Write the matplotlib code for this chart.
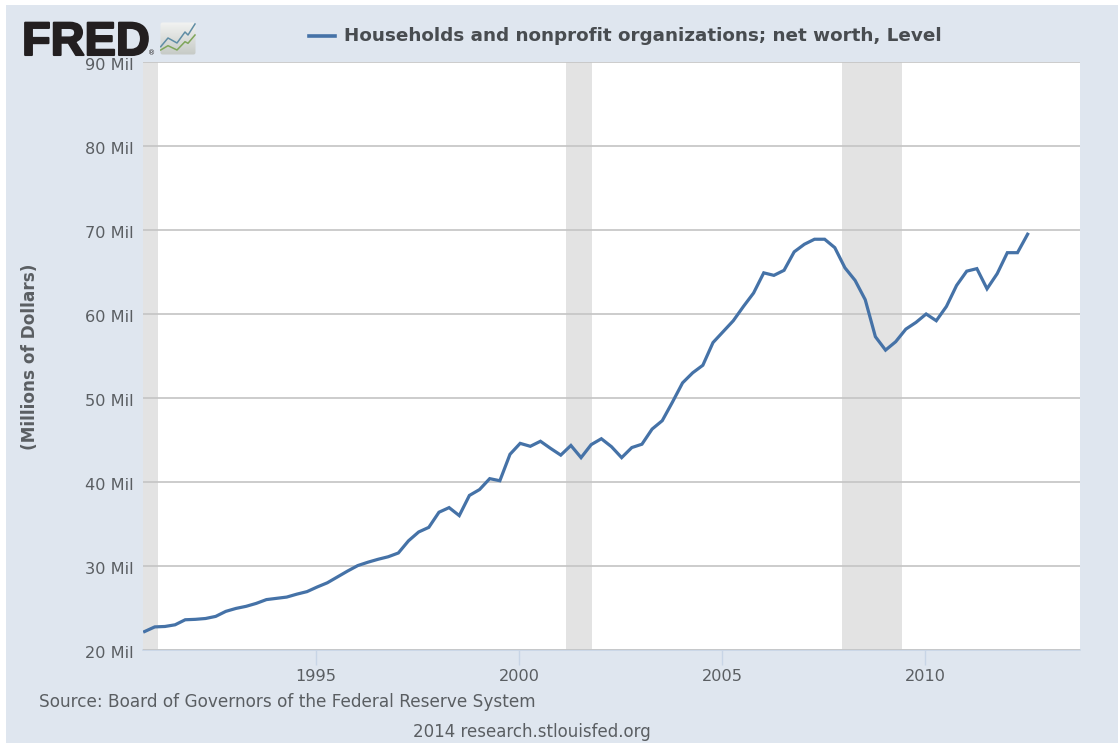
import matplotlib
matplotlib.use("Agg")
import matplotlib.pyplot as plt
import matplotlib.patheffects as pe
import matplotlib.transforms as mtrans
import numpy as np
from matplotlib.patches import Rectangle, FancyBboxPatch

W, H = 1118, 743

start_year = 1990.78
quarter_step = 0.25
net_worth_mil = [
    22.2, 22.75, 22.8, 23.0, 23.6, 23.65, 23.75, 24.0, 24.6, 24.95, 25.2, 25.55,
    26.0, 26.15, 26.3, 26.65, 26.95, 27.5, 28.0, 28.7, 29.4, 30.05, 30.45, 30.8,
    31.1, 31.55, 33.0, 34.05, 34.6, 36.4, 36.95, 36.0, 38.4, 39.1, 40.4, 40.15,
    43.3, 44.6, 44.25, 44.85, 44.0, 43.2, 44.35, 42.9, 44.45, 45.15, 44.2, 42.9,
    44.1, 44.5, 46.3, 47.3, 49.5, 51.8, 53.0, 53.9, 56.6, 57.9, 59.2, 60.9,
    62.5, 64.9, 64.6, 65.2, 67.4, 68.3, 68.9, 68.9, 67.9, 65.5, 64.0, 61.7,
    57.3, 55.7, 56.7, 58.2, 59.0, 60.0, 59.2, 60.9, 63.4, 65.1, 65.4, 63.0,
    64.8, 67.3, 67.3, 69.5,
]
years = [start_year + i * quarter_step for i in range(len(net_worth_mil))]
recessions = [(1990.74, 1991.12), (2001.15, 2001.80), (2007.95, 2009.43)]
y_ticks = [20, 30, 40, 50, 60, 70, 80, 90]
x_ticks = [1995, 2000, 2005, 2010]
title = "Households and nonprofit organizations; net worth, Level"
y_label = "(Millions of Dollars)"
source = "Source: Board of Governors of the Federal Reserve System"
credit = "2014 research.stlouisfed.org"

BG = "#DFE6EF"
TXT = "#5A5E62"
LINE = "#4572A7"

plt.rcParams["font.family"] = ["DejaVu Sans"]
fig = plt.figure(figsize=(W / 100, H / 100), dpi=100, facecolor="white")
fig.patches.append(Rectangle((6 / W, 0), (W - 6) / W, (H - 5) / H, transform=fig.transFigure,
                             facecolor=BG, edgecolor="none", zorder=-10))

ax = fig.add_axes([143 / W, 1 - 650 / H, (1080 - 143) / W, (650 - 62) / H])
ax.set_facecolor("white")
ax.set_xlim(1990.74, 2013.82)
ax.set_ylim(20, 90)
for a, b in recessions:
    ax.axvspan(a, b, color="#E3E3E3", lw=0, zorder=1)
ax.set_yticks(y_ticks)
ax.set_yticklabels([f"{v} Mil" for v in y_ticks])
ax.set_xticks(x_ticks)
ax.set_axisbelow(False)
ax.grid(axis="y", color="#C4C4C4", lw=1.2)
ax.plot(years, net_worth_mil, color=LINE, lw=2.3, zorder=3, solid_joinstyle="miter")
for s in ["left", "right", "top"]:
    ax.spines[s].set_visible(False)
ax.spines["bottom"].set_color("#C8D5E6")
ax.spines["bottom"].set_linewidth(1.2)
ax.tick_params(axis="y", length=0, pad=7, labelsize=11.6, labelcolor=TXT)
ax.tick_params(axis="x", length=11, width=1, color="#C8D5E6", pad=3, labelsize=11.6, labelcolor=TXT)
down = mtrans.ScaledTranslation(0, -3.5 / 100, fig.dpi_scale_trans)
for lab in ax.get_yticklabels():
    lab.set_verticalalignment("center")
    lab.set_transform(lab.get_transform() + down)

fig.text(30 / W, 1 - 357 / H, y_label, rotation=90, ha="center", va="center",
         fontsize=12.2, fontweight="bold", color=TXT)
fig.text(39 / W, 1 - 702 / H, source, ha="left", va="center", fontsize=12.2, color=TXT)
fig.text(532 / W, 1 - 732 / H, credit, ha="center", va="center", fontsize=12, color=TXT)
fig.text(344 / W, 1 - 36 / H, title, ha="left", va="center", fontsize=13.2,
         fontweight="bold", color="#484C50")
fig.add_artist(plt.Line2D([309 / W, 335 / W], [1 - 36 / H, 1 - 36 / H], color=LINE, lw=2.6))

# Logo
logo = fig.text(22 / W, 1 - 55 / H, "FRED", ha="left", va="baseline", fontsize=33.8,
                fontweight="bold", family="Liberation Sans", color="#231F20")
logo.set_path_effects([pe.withStroke(linewidth=1.5, foreground="#231F20")])
fig.text(152 / W, 1 - 53 / H, "®", ha="center", va="center", fontsize=5, color="#231F20")
icon = fig.add_axes([160 / W, 1 - 55 / H, 36 / W, 33 / H])
icon.set_xlim(0, 36); icon.set_ylim(33, 0); icon.axis("off")
box = FancyBboxPatch((0.5, 0.5), 35, 32, boxstyle="round,pad=0,rounding_size=2",
                     facecolor="none", edgecolor="none")
icon.add_patch(box)
grad = np.linspace(0, 1, 64).reshape(-1, 1)
img = icon.imshow(grad, extent=(0, 36, 33, 0), aspect="auto", vmin=0, vmax=1,
                  cmap=matplotlib.colors.LinearSegmentedColormap.from_list("g", ["#F2F3F2", "#C6CAC6"]))
img.set_clip_path(box)
icon.plot([0.7, 8, 17, 25, 28, 35], [24.7, 16, 21, 10, 13, 2], color="#5F8DA5", lw=1.1)
icon.plot([0.7, 8, 17, 25, 28, 35], [28, 23.7, 28, 19.7, 21.3, 13], color="#7FA65A", lw=1.1)

fig.savefig("out.png", dpi=100, facecolor="white")
